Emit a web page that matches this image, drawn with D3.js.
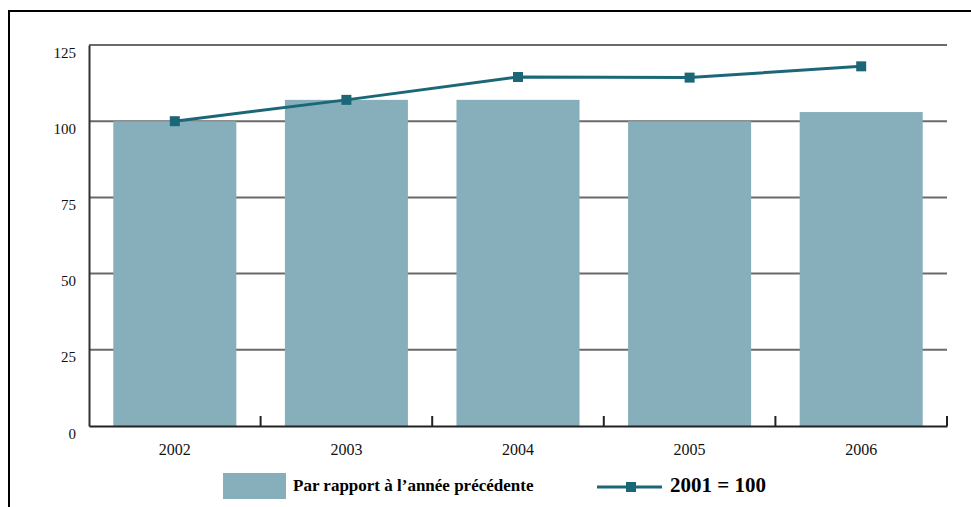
<!DOCTYPE html>
<html>
<head>
<meta charset="utf-8">
<script src="https://cdn.jsdelivr.net/npm/d3@7"></script>
<style>
  html, body { margin: 0; padding: 0; background: #fff; }
  svg { display: block; }
</style>
</head>
<body>
<svg id="chart" width="971" height="507"></svg>
<script>
const categories = ["2002", "2003", "2004", "2005", "2006"];
const barValues = [100, 107, 107, 100, 103];
const lineValues = [100, 107, 114.5, 114.3, 118];
const yTicks = [0, 25, 50, 75, 100, 125];
const barLabel = "Par rapport à l’année précédente";
const lineLabel = "2001 = 100";

const W = 971, H = 507;
const plotLeft = 89, plotRight = 947, plotTop = 45, plotBottom = 426;
const barColor = "#86afbb";
const lineColor = "#1c6777";
const serif = "'Liberation Serif', 'Times New Roman', serif";

const svg = d3.select("#chart");

// frame
svg.append("line").attr("x1", 8).attr("x2", W).attr("y1", 11).attr("y2", 11)
  .attr("stroke", "#000").attr("stroke-width", 2);
svg.append("line").attr("x1", 9).attr("x2", 9).attr("y1", 10).attr("y2", H)
  .attr("stroke", "#000").attr("stroke-width", 2);

const x = d3.scaleBand().domain(categories).range([plotLeft, plotRight])
  .paddingInner(0.283).paddingOuter(0.1415);
const y = d3.scaleLinear().domain([0, 125]).range([plotBottom, plotTop]);

// gridlines
svg.append("g").selectAll("line").data(yTicks.filter(d => d > 0)).join("line")
  .attr("x1", plotLeft).attr("x2", plotRight)
  .attr("y1", d => y(d)).attr("y2", d => y(d))
  .attr("stroke", "#6a6a6a").attr("stroke-width", 2);

// bars
svg.append("g").selectAll("rect").data(categories).join("rect")
  .attr("x", d => x(d))
  .attr("width", x.bandwidth())
  .attr("y", (d, i) => y(barValues[i]))
  .attr("height", (d, i) => y(0) - y(barValues[i]))
  .attr("fill", barColor);

// y axis
const yAxis = svg.append("g").attr("transform", `translate(${plotLeft},0)`)
  .call(d3.axisLeft(y).tickValues(yTicks).tickSize(0).tickPadding(13));
yAxis.attr("font-family", serif);
yAxis.select(".domain").attr("stroke", "#333").attr("stroke-width", 2);
yAxis.selectAll("text")
  .attr("font-family", serif).attr("font-size", 15).attr("fill", "#111")
  .attr("dy", "0").attr("y", 12);

// x axis
const xAxis = svg.append("g").attr("transform", `translate(0,${plotBottom})`)
  .call(d3.axisBottom(x).tickSize(0).tickPadding(0));
xAxis.attr("font-family", serif);
xAxis.select(".domain").attr("stroke", "#222").attr("stroke-width", 2);
xAxis.selectAll("text")
  .attr("font-family", serif).attr("font-size", 16).attr("fill", "#111")
  .attr("dy", "0").attr("y", 29);

// boundary ticks (inward)
const step = x.step();
const boundaries = categories.map((d, i) => x(d) + x.bandwidth() + step * x.paddingInner() / 2);
svg.append("g").selectAll("line").data(boundaries).join("line")
  .attr("x1", d => d).attr("x2", d => d)
  .attr("y1", plotBottom).attr("y2", plotBottom - 10)
  .attr("stroke", "#222").attr("stroke-width", 2);

// line series
const cx = d => x(d) + x.bandwidth() / 2;
const line = d3.line().x((d, i) => cx(categories[i])).y(d => y(d));
svg.append("path").datum(lineValues)
  .attr("d", line).attr("fill", "none")
  .attr("stroke", lineColor).attr("stroke-width", 3);
svg.append("g").selectAll("rect").data(lineValues).join("rect")
  .attr("x", (d, i) => cx(categories[i]) - 5)
  .attr("y", d => y(d) - 5)
  .attr("width", 10).attr("height", 10)
  .attr("fill", lineColor);

// legend
const lg = svg.append("g");
lg.append("rect").attr("x", 223).attr("y", 473).attr("width", 63).attr("height", 26)
  .attr("fill", barColor);
lg.append("text").attr("x", 293).attr("y", 491)
  .attr("font-family", serif).attr("font-size", 17).attr("font-weight", "bold")
  .attr("fill", "#000").text(barLabel);
lg.append("line").attr("x1", 597).attr("x2", 662).attr("y1", 487).attr("y2", 487)
  .attr("stroke", lineColor).attr("stroke-width", 3);
lg.append("rect").attr("x", 626).attr("y", 482).attr("width", 10).attr("height", 10)
  .attr("fill", lineColor);
lg.append("text").attr("x", 670).attr("y", 492)
  .attr("font-family", serif).attr("font-size", 21).attr("font-weight", "bold")
  .attr("fill", "#000").text(lineLabel);
</script>
</body>
</html>
